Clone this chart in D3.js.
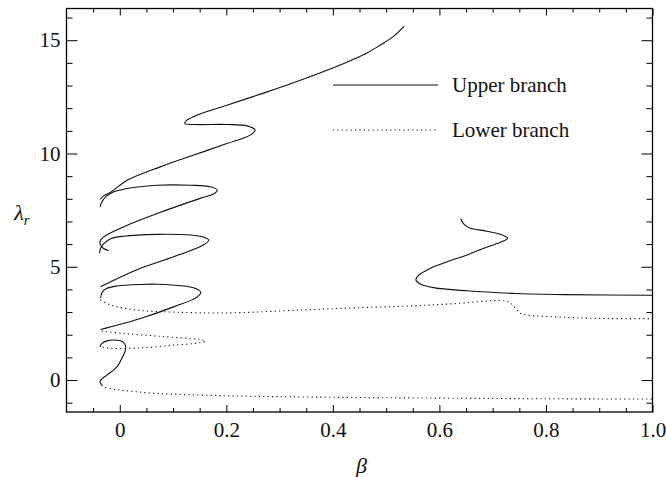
<!DOCTYPE html>
<html><head><meta charset="utf-8">
<script src="https://cdn.jsdelivr.net/npm/d3@7"></script>
<style>body{margin:0;background:#fff}svg{display:block}text{font-family:"Liberation Serif","Times New Roman",serif}</style>
</head><body><svg id="c" width="666" height="477"></svg>
<script>
// ---- data (beta, lambda_r) ----
const upper1 = [[-0.037,7.97],[-0.031,8.12],[-0.017,8.29],[0.014,8.82],[0.076,9.41],[0.139,9.93],[0.201,10.44],[0.245,10.81],[0.254,11.03],[0.239,11.22],[0.201,11.28],[0.139,11.28],[0.122,11.32],[0.126,11.47],[0.148,11.72],[0.201,12.13],[0.264,12.62],[0.326,13.12],[0.401,13.78],[0.439,14.16],[0.465,14.45],[0.490,14.80],[0.514,15.17],[0.534,15.62]];
const upper2 = [[-0.037,7.63],[-0.034,7.85],[-0.025,8.12],[-0.011,8.31],[0.026,8.50],[0.070,8.60],[0.133,8.60],[0.170,8.53],[0.183,8.38],[0.176,8.21],[0.151,8.02],[0.070,7.35],[0.007,6.76],[-0.030,6.32],[-0.037,6.13],[-0.036,5.96],[-0.031,5.82],[-0.021,5.71]];
const upper3 = [[-0.038,5.60],[-0.036,5.82],[-0.029,6.04],[-0.017,6.24],[0.007,6.35],[0.070,6.43],[0.133,6.40],[0.157,6.31],[0.167,6.18],[0.157,5.96],[0.101,5.44],[0.039,4.93],[-0.017,4.34],[-0.036,4.12]];
const upper4 = [[-0.036,3.62],[-0.033,3.88],[-0.025,4.04],[-0.005,4.15],[0.039,4.22],[0.070,4.23],[0.120,4.15],[0.142,4.04],[0.152,3.88],[0.145,3.66],[0.101,3.23],[0.039,2.72],[-0.017,2.35],[-0.036,2.23]];
const upper5 = [[-0.037,1.46],[-0.034,1.61],[-0.024,1.73],[-0.005,1.76],[0.005,1.70],[0.011,1.50],[0.010,1.28],[0.005,1.01],[-0.005,0.59],[-0.024,0.22],[-0.034,0.04],[-0.037,-0.09],[-0.034,-0.22]];
const upper6 = [[0.640,7.13],[0.645,6.90],[0.657,6.71],[0.689,6.57],[0.717,6.41],[0.728,6.25],[0.717,6.11],[0.682,5.81],[0.651,5.51],[0.620,5.27],[0.589,5.00],[0.576,4.85],[0.560,4.61],[0.556,4.41],[0.564,4.24],[0.589,4.08],[0.651,3.94],[0.745,3.82],[0.839,3.77],[1.0,3.74]];
const lower1 = [[-0.034,2.16],[0.007,2.06],[0.070,1.94],[0.133,1.83],[0.151,1.79],[0.161,1.72],[0.151,1.65],[0.101,1.54],[0.039,1.42],[-0.017,1.40],[-0.034,1.46]];
const lower2 = [[-0.036,3.55],[-0.033,3.49],[-0.021,3.35],[-0.005,3.23],[0.039,3.07],[0.101,3.00],[0.195,2.96],[0.339,3.09],[0.432,3.18],[0.533,3.26],[0.620,3.36],[0.714,3.51],[0.729,3.46],[0.736,3.35],[0.744,3.15],[0.751,2.96],[0.764,2.87],[0.839,2.77],[0.901,2.72],[1.0,2.71]];
const lower3 = [[-0.034,-0.22],[-0.029,-0.31],[-0.014,-0.40],[0.007,-0.46],[0.070,-0.59],[0.195,-0.69],[0.320,-0.74],[0.501,-0.78],[0.75,-0.82],[1.0,-0.84]];
const upperSegments = [upper1, upper2, upper3, upper4, upper5, upper6];
const lowerSegments = [lower1, lower2, lower3];
const xMajor = [0, 0.2, 0.4, 0.6, 0.8, 1.0];
const xLabels = ["0", "0.2", "0.4", "0.6", "0.8", "1.0"];
const yMajor = [0, 5, 10, 15];
const legendNames = ["Upper branch", "Lower branch"];

// ---- chart ----
const svg = d3.select("#c");
const L = 66.5, R = 652.5, T = 8.5, B = 412;
const x = d3.scaleLinear().domain([-0.1, 1.0]).range([L, R]);
const y = d3.scaleLinear().domain([-1.41, 16.4]).range([B, T]);
const font = "Liberation Serif, Times New Roman, serif";

const clipId = "clip";
svg.append("clipPath").attr("id", clipId).append("rect")
  .attr("x", L).attr("y", T).attr("width", R - L).attr("height", B - T);

const xMinor = d3.range(-0.05, 1.0001, 0.05).filter(v => !xMajor.some(m => Math.abs(m - v) < 1e-6));
const yMinor = d3.range(-1, 16.5, 1).filter(v => !yMajor.includes(v));

function styleAxis(g) {
  g.attr("font-family", font).attr("font-size", 21);
  g.select(".domain").remove();
  g.selectAll(".tick line").attr("stroke", "#000").attr("stroke-width", 1);
  g.selectAll("text").attr("font-family", font).attr("font-size", 21).attr("fill", "#111");
}
// bottom
svg.append("g").attr("transform", `translate(0,${B})`)
  .call(d3.axisBottom(x).tickValues(xMajor).tickFormat((d, i) => xLabels[i]).tickSizeInner(-7).tickSizeOuter(0).tickPadding(10))
  .call(styleAxis);
svg.append("g").attr("transform", `translate(0,${B})`)
  .call(d3.axisBottom(x).tickValues(xMinor).tickFormat("").tickSizeInner(-4).tickSizeOuter(0))
  .call(styleAxis);
// top
svg.append("g").attr("transform", `translate(0,${T})`)
  .call(d3.axisTop(x).tickValues(xMajor).tickFormat("").tickSizeInner(-7).tickSizeOuter(0))
  .call(styleAxis);
svg.append("g").attr("transform", `translate(0,${T})`)
  .call(d3.axisTop(x).tickValues(xMinor).tickFormat("").tickSizeInner(-4).tickSizeOuter(0))
  .call(styleAxis);
// left
svg.append("g").attr("transform", `translate(${L},0)`)
  .call(d3.axisLeft(y).tickValues(yMajor).tickFormat(d3.format("d")).tickSizeInner(-11).tickSizeOuter(0).tickPadding(6))
  .call(styleAxis);
svg.append("g").attr("transform", `translate(${L},0)`)
  .call(d3.axisLeft(y).tickValues(yMinor).tickFormat("").tickSizeInner(-6).tickSizeOuter(0))
  .call(styleAxis);
// right
svg.append("g").attr("transform", `translate(${R},0)`)
  .call(d3.axisRight(y).tickValues(yMajor).tickFormat("").tickSizeInner(-11).tickSizeOuter(0))
  .call(styleAxis);
svg.append("g").attr("transform", `translate(${R},0)`)
  .call(d3.axisRight(y).tickValues(yMinor).tickFormat("").tickSizeInner(-6).tickSizeOuter(0))
  .call(styleAxis);

svg.append("rect").attr("x", L).attr("y", T).attr("width", R - L).attr("height", B - T)
  .attr("fill", "none").attr("stroke", "#000").attr("stroke-width", 1.3);

const line = d3.line().x(d => x(d[0])).y(d => y(d[1])).curve(d3.curveCatmullRom.alpha(0.5));
const plot = svg.append("g").attr("clip-path", `url(#${clipId})`);
plot.selectAll("path.up").data(upperSegments).join("path").attr("class", "up")
  .attr("d", line).attr("fill", "none").attr("stroke", "#111").attr("stroke-width", 1.1);
plot.selectAll("path.lo").data(lowerSegments).join("path").attr("class", "lo")
  .attr("d", line).attr("fill", "none").attr("stroke", "#111").attr("stroke-width", 1.1)
  .attr("stroke-dasharray", "1.2,3.2");

// legend
const leg = svg.append("g");
legendNames.forEach((name, i) => {
  const yy = 85 + i * 45;
  leg.append("line").attr("x1", 333).attr("x2", 438).attr("y1", yy).attr("y2", yy)
    .attr("stroke", "#111").attr("stroke-width", 1.1)
    .attr("stroke-dasharray", i === 0 ? null : "1.2,3.2");
  leg.append("text").attr("x", 452).attr("y", yy).attr("dy", "0.33em")
    .attr("font-family", font).attr("font-size", 21).attr("fill", "#111").text(name);
});

// axis titles
svg.append("text").attr("x", (L + R) / 2 + 2).attr("y", 466).attr("dy", "0.33em").attr("text-anchor", "middle")
  .attr("font-family", font).attr("font-size", 22).attr("font-style", "italic").attr("fill", "#111").text("β");
const yl = svg.append("text").attr("x", 22).attr("y", 213).attr("dy", "0.33em").attr("text-anchor", "middle")
  .attr("font-family", font).attr("font-size", 22).attr("font-style", "italic").attr("fill", "#111");
yl.append("tspan").text("λ");
yl.append("tspan").attr("font-size", 15).attr("dy", "0.3em").text("r");
</script></body></html>
